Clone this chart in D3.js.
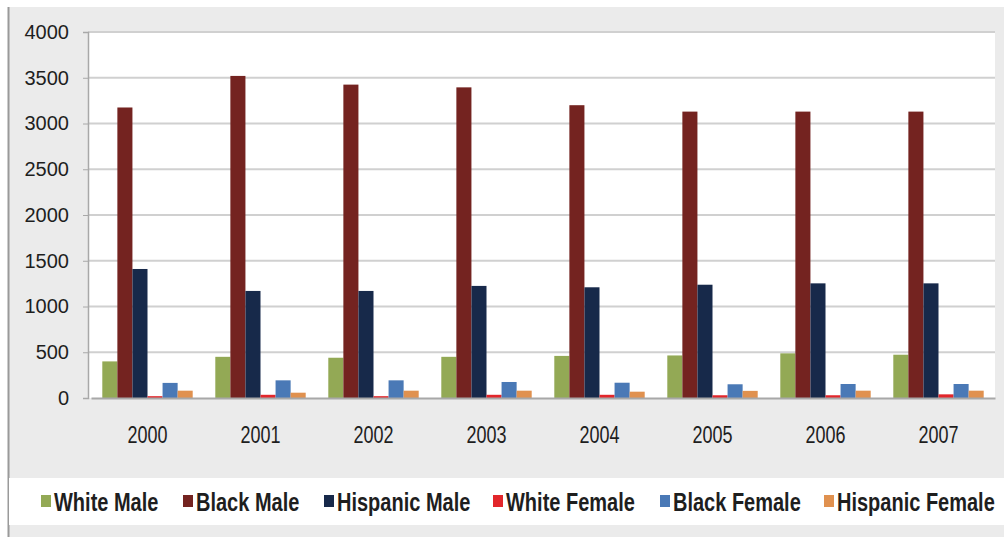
<html>
<head>
<script src="https://d3js.org/d3.v7.min.js"></script>
<style>
  body { margin: 0; background: #fff; }
  text { font-family: "Liberation Sans", Arial, sans-serif; fill: #1e1e1e; }
</style>
</head>
<body>
<svg id="chart" width="1004" height="537"></svg>
<script>
(function(){

  var years = ["2000", "2001", "2002", "2003", "2004", "2005", "2006", "2007"];
  var seriesNames = ["White Male", "Black Male", "Hispanic Male", "White Female", "Black Female", "Hispanic Female"];
  var seriesColors = ["#93a955", "#742320", "#17294a", "#e2262b", "#4a79b6", "#e0914f"];
  var yTicks = [0, 500, 1000, 1500, 2000, 2500, 3000, 3500, 4000];

  var whiteMale      = [400, 450, 440, 450, 460, 465, 488, 473];
  var blackMale      = [3175, 3520, 3425, 3395, 3200, 3130, 3130, 3130];
  var hispanicMale   = [1410, 1170, 1170, 1225, 1210, 1238, 1253, 1253];
  var whiteFemale    = [20, 35, 20, 35, 35, 30, 30, 40];
  var blackFemale    = [165, 193, 193, 175, 167, 150, 153, 153];
  var hispanicFemale = [80, 58, 80, 80, 69, 78, 80, 80];

  var seriesValues = [whiteMale, blackMale, hispanicMale, whiteFemale, blackFemale, hispanicFemale];

  var svg = d3.select("#chart");
  var plot = {left: 88, right: 995, top: 32, bottom: 398};

  // Outer chart box
  svg.append("rect")
    .attr("x", 8).attr("y", 7).attr("width", 996).attr("height", 530)
    .style("fill", "#ebebeb");
  svg.append("line")
    .attr("x1", 8.5).attr("y1", 7).attr("x2", 8.5).attr("y2", 537)
    .style("stroke", "#9a9a9a").style("stroke-width", 2);

  // Plot background
  svg.append("rect")
    .attr("x", plot.left).attr("y", plot.top)
    .attr("width", plot.right - plot.left).attr("height", plot.bottom - plot.top)
    .style("fill", "#ffffff");

  var x = d3.scaleBand().domain(years).range([plot.left + 3, plot.right]).paddingInner(0.2).paddingOuter(0.1);
  var xs = d3.scaleBand().domain(seriesNames).range([0, x.bandwidth()]).padding(0);
  var y = d3.scaleLinear().domain([0, 4000]).range([plot.bottom, plot.top]);

  // Gridlines
  svg.append("g").selectAll("line").data(yTicks.slice(1)).enter().append("line")
    .attr("x1", plot.left).attr("x2", plot.right)
    .attr("y1", function(d){ return y(d); })
    .attr("y2", function(d){ return y(d); })
    .style("stroke", "#d0d0d0").style("stroke-width", 2);

  // Y axis
  var yAxis = svg.append("g")
    .attr("transform", "translate(" + plot.left + ",0)")
    .call(d3.axisLeft(y).tickValues(yTicks).tickFormat(d3.format("d")).tickSize(5).tickPadding(14));
  yAxis.select(".domain").style("stroke", "#a8a8a8").style("stroke-width", 1.5);
  yAxis.selectAll(".tick line").style("stroke", "#a8a8a8");
  yAxis.selectAll(".tick text")
    .style("font-size", "20px").style("fill", "#1e1e1e")
    .attr("font-family", null);

  // Bars
  var groups = svg.append("g").selectAll("g").data(years).enter().append("g")
    .attr("transform", function(d){ return "translate(" + x(d) + ",0)"; });

  groups.selectAll("rect")
    .data(function(d, i){
      return seriesNames.map(function(s, j){ return {series: s, value: seriesValues[j][i], color: seriesColors[j]}; });
    })
    .enter().append("rect")
    .attr("x", function(d){ return xs(d.series); })
    .attr("width", xs.bandwidth())
    .attr("y", function(d){ return y(d.value); })
    .attr("height", function(d){ return plot.bottom - y(d.value); })
    .style("fill", function(d){ return d.color; });

  // X axis
  var xAxis = svg.append("g")
    .attr("transform", "translate(0," + plot.bottom + ")")
    .call(d3.axisBottom(x).tickSize(0).tickPadding(0));
  xAxis.select(".domain").style("stroke", "#a8a8a8").style("stroke-width", 2);
  xAxis.selectAll(".tick text")
    .attr("y", 0).attr("dy", null)
    .attr("font-family", null)
    .style("font-size", "18px").style("fill", "#1e1e1e")
    .attr("transform", "translate(0,45) scale(1,1.3)");

  // Legend band
  svg.append("rect")
    .attr("x", 9).attr("y", 478).attr("width", 995).attr("height", 47)
    .style("fill", "#ffffff");

  var legendX = [41, 183, 324, 493, 660, 824];
  var legend = svg.append("g").selectAll("g").data(seriesNames).enter().append("g")
    .attr("transform", function(d, i){ return "translate(" + legendX[i] + ",495)"; });
  legend.append("rect")
    .attr("width", 10).attr("height", 12)
    .style("fill", function(d, i){ return seriesColors[i]; });
  legend.append("text")
    .attr("x", 13).attr("y", 0)
    .attr("transform", "translate(0,16) scale(1,1.3)")
    .style("font-size", "20px").style("font-weight", "bold")
    .text(function(d){ return d; });

})();
</script>
</body>
</html>
